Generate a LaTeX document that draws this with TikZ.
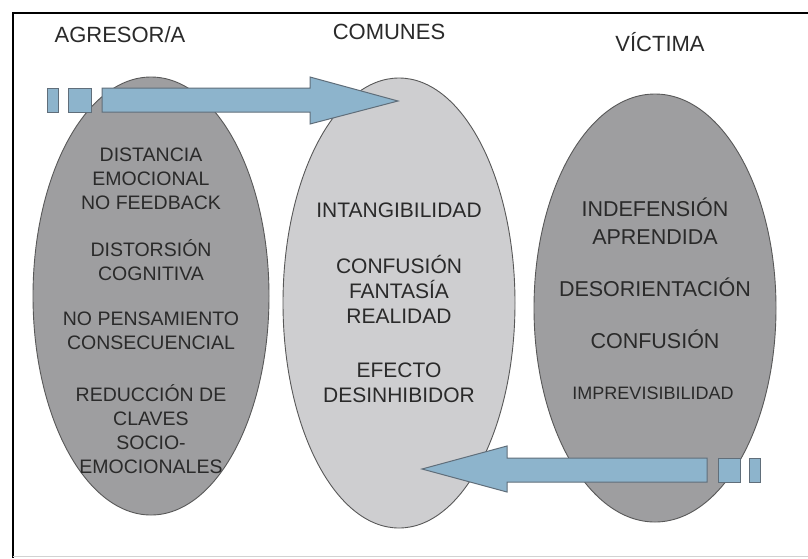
\documentclass[tikz,border=0pt]{standalone}
\usepackage{fontspec}
\setmainfont{Liberation Sans}
\usetikzlibrary{shapes.geometric}

\definecolor{darkoval}{RGB}{158,158,160}
\definecolor{lightoval}{RGB}{206,206,208}
\definecolor{ovaledge}{RGB}{88,88,88}
\definecolor{arrowblue}{RGB}{141,180,204}
\definecolor{arrowedge}{RGB}{96,110,122}
\definecolor{textgray}{RGB}{42,42,42}

\tikzset{
  oval/.style={ellipse, draw=ovaledge, line width=0.9pt, inner sep=0pt},
  heading/.style={text=textgray, font=\fontsize{22}{26}\selectfont},
  agrtext/.style={text=textgray, align=center, font=\fontsize{19.5}{24}\selectfont},
  comtext/.style={text=textgray, align=center, font=\fontsize{21}{25}\selectfont},
  victext/.style={text=textgray, align=center, font=\fontsize{21.5}{28}\selectfont},
  blockarrow/.style={draw=arrowedge, fill=arrowblue, line width=1pt, line join=miter}
}

\begin{document}
\begin{tikzpicture}[x=1pt,y=-1pt]
  \useasboundingbox (0,0) rectangle (808,558);
  \fill[white] (0,0) rectangle (808,558);

  \draw[line width=2.5pt] (13,558) -- (13,13) -- (808,13);
  \draw[gray!35,line width=1pt] (13,556) -- (808,556);

  \node[heading] (agresor) at (120,35) {AGRESOR/A};
  \node[heading] (comunes) at (389,32) {COMUNES};
  \node[heading] (victima) at (660,42) {VÍCTIMA};

  \node[oval,fill=darkoval,minimum width=236pt,minimum height=438pt] (ovalagr) at (151,296) {};
  \node[oval,fill=lightoval,minimum width=232pt,minimum height=450pt] (ovalcom) at (399,303) {};
  \node[oval,fill=darkoval,minimum width=242pt,minimum height=428pt] (ovalvic) at (655,308) {};

  \node[agrtext] (distancia) at (151,179) {DISTANCIA\\EMOCIONAL\\NO FEEDBACK};
  \node[agrtext] (distorsion) at (151,260) {DISTORSIÓN\\COGNITIVA};
  \node[agrtext] (pensamiento) at (151,331) {NO PENSAMIENTO\\CONSECUENCIAL};
  \node[agrtext] (claves) at (151,429) {REDUCCIÓN DE\\CLAVES\\SOCIO-\\EMOCIONALES};

  \node[comtext] (intang) at (399,210) {INTANGIBILIDAD};
  \node[comtext] (confcom) at (399,289) {CONFUSIÓN\\FANTASÍA\\REALIDAD};
  \node[comtext] (efecto) at (399,383) {EFECTO\\DESINHIBIDOR};

  \node[victext] (indef) at (655,221) {INDEFENSIÓN\\APRENDIDA};
  \node[victext] (desor) at (655,287) {DESORIENTACIÓN};
  \node[victext] (confvic) at (655,339) {CONFUSIÓN};
  \node[text=textgray,font=\fontsize{18}{22}\selectfont] (impre) at (653,393) {IMPREVISIBILIDAD};

  \filldraw[blockarrow] (47,88) rectangle (58,112);
  \filldraw[blockarrow] (68,88) rectangle (91,112);
  \filldraw[blockarrow] (102,88) -- (310,88) -- (310,77) -- (398,101)
    -- (310,124) -- (310,112) -- (102,112) -- cycle;

  \filldraw[blockarrow] (749,458) rectangle (760,482);
  \filldraw[blockarrow] (718,458) rectangle (740,482);
  \filldraw[blockarrow] (707,458) -- (507,458) -- (507,446) -- (422,469)
    -- (507,492) -- (507,482) -- (707,482) -- cycle;
\end{tikzpicture}
\end{document}
